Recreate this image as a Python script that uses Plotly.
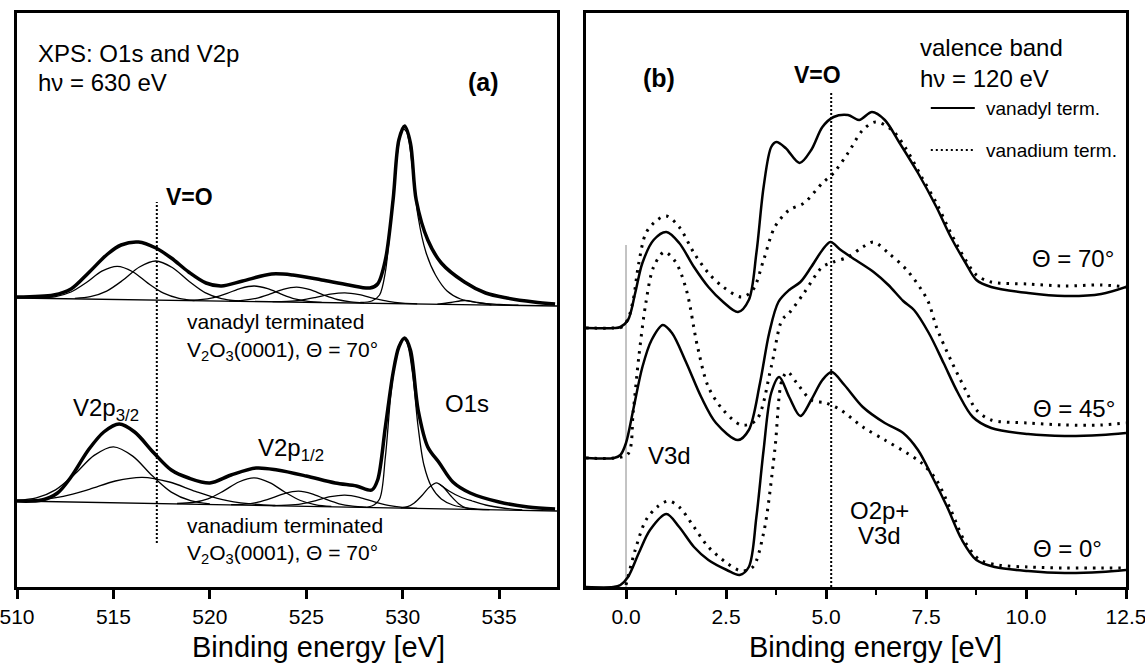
import plotly.graph_objects as go

# ---------------- panel (a): XPS O1s / V2p ----------------
# measured spectra (arb. units)
XPS_TOP_EV = [510.0, 511.9, 512.8, 513.7, 514.7, 515.4, 516.3, 517.2, 518.0, 518.9, 519.8, 520.6,
              521.7, 523.2, 524.3, 525.8, 527.2, 528.3, 528.7, 529.1, 529.5, 529.8, 530.1, 530.4,
              530.7, 531.3, 532.0, 533.2, 534.3, 535.4, 536.8, 537.9]
XPS_TOP = [290, 292, 298, 314, 333, 342, 345, 339, 329, 315, 304, 301, 306, 313, 312, 307, 302, 299,
           303, 327, 387, 447, 461, 444, 387, 347, 324, 305, 294, 289, 285, 283]

XPS_BOT_EV = [510.0, 511.3, 512.1, 512.8, 513.7, 514.5, 515.3, 516.1, 517.1, 518.0, 518.9, 520.0,
              521.1, 522.4, 523.5, 525.0, 526.5, 527.6, 528.4, 528.7, 529.1, 529.5, 529.8, 530.1,
              530.4, 530.8, 531.3, 531.9, 532.6, 533.5, 535.0, 536.5, 537.9]
XPS_BOT = [86, 87, 94, 110, 137, 155, 163, 155, 134, 117, 109, 104, 112, 119, 117, 111, 104, 101, 97,
           107, 160, 214, 240, 249, 237, 177, 140, 124, 105, 94, 85, 80, 78]

# backgrounds
BG_EV = [510.0, 538.0]
BG_TOP = [289, 281]
BG_BOT = [86, 76]

# fitted components, vanadyl terminated
TOP_C1_EV = [511.2, 512.0, 512.8, 513.6, 514.4, 515.2, 516.0, 516.8, 517.6, 518.4, 519.2]
TOP_C1 = [289, 290.4, 295, 304.5, 315.8, 320.6, 315.3, 303.6, 293.8, 288.6, 286.4]
TOP_C2_EV = [513.0, 513.8, 514.65, 515.5, 516.35, 517.2, 518.05, 518.9, 519.75, 520.6, 521.45]
TOP_C2 = [288.6, 290.3, 295.9, 306.9, 320, 326, 319.5, 306, 294.4, 288.4, 286.2]
TOP_C3_EV = [518.8, 519.5, 520.2, 520.9, 521.6, 522.3, 523.0, 523.7, 524.4, 525.1, 525.8]
TOP_C3 = [286.7, 287.3, 289.4, 293.6, 298.7, 301, 298.3, 292.9, 288.2, 285.7, 284.7]
TOP_C4_EV = [521.0, 521.7, 522.4, 523.1, 523.8, 524.5, 525.2, 525.9, 526.6, 527.3, 528.0]
TOP_C4 = [286.1, 286.7, 288.7, 292.8, 297.7, 299.9, 297.3, 292, 287.5, 285.1, 284.1]
TOP_C5_EV = [523.25, 524.0, 524.75, 525.5, 526.25, 527.0, 527.75, 528.5, 529.25, 530.0, 530.75]
TOP_C5 = [285.3, 285.6, 286.9, 289.6, 292.8, 294.2, 292.3, 288.7, 285.6, 283.9, 283.2]
TOP_O1S_EV = [527.8, 528.4, 528.8, 529.1, 529.4, 529.7, 530.0, 530.2, 530.5, 530.8, 531.2, 531.7,
              532.3, 533.0, 534.0, 535.0, 536.0]
TOP_O1S = [284.5, 286, 292, 315, 370, 430, 458, 455, 420, 370, 335, 312, 296, 288, 284, 282.5, 281.8]
TOP_C7_EV = [531.8, 532.5, 533.2, 533.9, 534.6]
TOP_C7 = [282.8, 284.5, 286.5, 284.5, 282.2]

# fitted components, vanadium terminated
BOT_C1_EV = [510.0, 511.0, 512.0, 513.0, 514.0, 515.0, 516.0, 517.0, 518.0, 519.0, 520.0]
BOT_C1 = [86.7, 89.1, 97.1, 112.9, 131.6, 140.2, 130.9, 111.5, 94.9, 86.3, 83.1]
BOT_C2_EV = [510.0, 511.0, 512.4, 513.75, 515.1, 516.5, 517.9, 519.25, 520.6, 522.0, 523.4]
BOT_C2 = [86.5, 87.2, 90.7, 97.7, 106, 109.7, 105, 95.7, 87.7, 83.3, 81.5]
BOT_C3_EV = [518.3, 519.1, 519.9, 520.7, 521.5, 522.3, 523.1, 523.9, 524.7, 525.5, 526.3]
BOT_C3 = [83.5, 84.5, 88.2, 95.9, 105, 109.1, 104.4, 94.8, 86.5, 82.2, 80.6]
BOT_C4_EV = [521.1, 521.8, 522.5, 523.2, 523.9, 524.6, 525.3, 526.0, 526.7, 527.4, 528.1]
BOT_C4 = [82.3, 82.8, 84.8, 88.8, 93.7, 95.8, 93.2, 87.8, 83.2, 80.8, 79.7]
BOT_C5_EV = [523.25, 524.0, 524.75, 525.5, 526.25, 527.0, 527.75, 528.5, 529.25, 530.0, 530.75]
BOT_C5 = [81.4, 81.8, 83.2, 86.4, 90.3, 91.9, 89.7, 85.3, 81.6, 79.6, 78.7]
BOT_O1S_EV = [527.8, 528.4, 528.8, 529.1, 529.4, 529.7, 530.0, 530.2, 530.5, 530.8, 531.1, 531.5,
              532.0, 532.6, 533.5, 534.5]
BOT_O1S = [79.6, 81, 88, 130, 195, 235, 248, 245, 215, 160, 122, 100, 88, 82, 78.5, 77.3]
BOT_C7_EV = [529.9, 530.25, 530.6, 531.0, 531.4, 531.75, 532.1, 532.5, 532.9, 533.25, 533.6]
BOT_C7 = [79.2, 80.4, 84.1, 91.5, 100.2, 104.2, 99.9, 91, 83.3, 79.3, 77.9]
BOT_ENV_EV = [531.9, 532.4, 533.0, 533.6, 534.3, 535.2, 536.2]
BOT_ENV = [103, 96, 90, 86, 82, 79, 77]

# V=O marker in (a)
VO_A_EV = [517.25, 517.25]
VO_A_Y = [44, 385]

# ---------------- panel (b): valence band ----------------
VB70_SOLID_EV = [-1.0, -0.3, -0.14, 0.05, 0.23, 0.41, 0.69, 1.01, 1.33, 1.70, 2.06, 2.43, 2.80, 3.07,
                 3.26, 3.44, 3.63, 3.76, 3.99, 4.34, 4.63, 4.91, 5.19, 5.55, 5.83, 6.15, 6.47, 6.84,
                 7.30, 7.76, 8.12, 8.49, 8.76, 9.13, 10.05, 10.97, 11.88, 12.5]
VB70_SOLID = [259, 259, 260, 267, 294, 324, 347, 355, 344, 320, 300, 285, 275, 287, 334, 400, 440,
              445, 439, 424, 437, 460, 470, 472, 467, 475, 467, 444, 414, 380, 350, 324, 307, 300,
              294, 291, 293, 300]
VB70_DOT_EV = [-1.0, -0.3, -0.1, 0.05, 0.18, 0.32, 0.50, 0.78, 1.01, 1.33, 1.70, 2.06, 2.43, 2.89,
               3.17, 3.44, 3.72, 4.08, 4.45, 4.91, 5.19, 5.55, 5.92, 6.24, 6.65, 7.02, 7.39, 7.76,
               8.12, 8.49, 8.76, 9.13, 10.05, 10.97, 11.88, 12.5]
VB70_DOT = [259, 259, 260, 268, 287, 324, 354, 367, 371, 360, 334, 314, 300, 290, 297, 327, 360, 377,
            384, 404, 414, 434, 457, 465, 457, 437, 410, 384, 354, 327, 312, 305, 303, 301, 302, 300]

VB45_SOLID_EV = [-1.0, -0.3, -0.14, 0.0, 0.18, 0.41, 0.64, 0.92, 1.15, 1.51, 1.88, 2.25, 2.80, 3.07,
                 3.35, 3.58, 3.81, 4.08, 4.36, 4.63, 4.91, 5.11, 5.37, 5.74, 6.19, 6.56, 6.93, 7.20,
                 7.57, 7.94, 8.30, 8.67, 9.13, 10.05, 10.97, 11.88, 12.5]
VB45_SOLID = [129, 129, 132, 144, 177, 220, 247, 262, 254, 224, 190, 164, 147, 157, 204, 254, 285,
              297, 305, 320, 337, 345, 337, 327, 315, 302, 286, 277, 254, 224, 194, 170, 159, 153,
              151, 152, 154]
VB45_DOT_EV = [-1.0, -0.3, 0.05, 0.18, 0.32, 0.50, 0.69, 0.96, 1.24, 1.51, 1.79, 2.06, 2.43, 2.89,
               3.26, 3.63, 3.90, 4.08, 4.45, 4.91, 5.19, 5.55, 5.92, 6.19, 6.56, 7.02, 7.39, 7.57,
               7.76, 8.12, 8.49, 8.76, 9.13, 10.05, 10.97, 11.88, 12.5]
VB45_DOT = [129, 129, 133, 175, 230, 285, 320, 335, 325, 297, 240, 200, 177, 162, 167, 220, 267, 274,
            294, 320, 325, 330, 340, 345, 334, 317, 297, 284, 260, 227, 197, 177, 167, 164, 162, 162,
            164]

VB0_SOLID_EV = [-1.0, -0.32, -0.14, 0.05, 0.32, 0.60, 1.01, 1.33, 1.70, 2.06, 2.52, 2.84, 3.07, 3.26,
                3.44, 3.63, 3.83, 4.08, 4.36, 4.63, 4.91, 5.14, 5.46, 5.92, 6.47, 6.93, 7.30, 7.66,
                8.03, 8.40, 8.76, 9.22, 10.05, 10.97, 11.88, 12.5]
VB0_SOLID = [0, 0, 2, 10, 34, 57, 73, 60, 40, 27, 17, 12, 20, 70, 137, 194, 210, 190, 171, 187, 207,
             215, 202, 180, 164, 154, 137, 110, 80, 47, 27, 20, 16, 14, 15, 17]
VB0_DOT_EV = [0.0, 0.23, 0.50, 0.78, 1.06, 1.33, 1.70, 2.06, 2.52, 2.89, 3.17, 3.44, 3.72, 3.90, 4.04,
              4.27, 4.63, 5.00, 5.37, 5.92, 6.47, 7.02, 7.39, 7.76, 8.12, 8.49, 8.85, 9.31, 10.05,
              10.97, 11.88, 12.5]
VB0_DOT = [2, 37, 67, 80, 86, 80, 60, 40, 24, 16, 20, 54, 137, 207, 215, 204, 187, 184, 177, 160, 147,
           134, 124, 107, 77, 44, 27, 22, 20, 19, 19, 19]

# Fermi level and V=O marker in (b)
EF_EV = [0.0, 0.0]
EF_Y = [0, 342]
VO_B_EV = [5.13, 5.13]
VO_B_Y = [0, 495]

FONT = "Arial, Liberation Sans, sans-serif"
DOT_DASH = "2.5px,6px"

fig = go.Figure()


def line(x, y, width, dash="solid", xa="x", ya="y", color="black", smooth=True):
    fig.add_trace(go.Scatter(
        x=x, y=y, mode="lines", xaxis=xa, yaxis=ya, showlegend=False, hoverinfo="skip",
        line=dict(color=color, width=width, dash=dash,
                  shape="spline" if smooth else "linear", smoothing=0.9)))


# panel (a)
for ev, y in [(BG_EV, BG_TOP), (BG_EV, BG_BOT)]:
    line(ev, y, 1.3, smooth=False)
for ev, y in [(TOP_C1_EV, TOP_C1), (TOP_C2_EV, TOP_C2), (TOP_C3_EV, TOP_C3), (TOP_C4_EV, TOP_C4),
              (TOP_C5_EV, TOP_C5), (TOP_O1S_EV, TOP_O1S), (TOP_C7_EV, TOP_C7),
              (BOT_C1_EV, BOT_C1), (BOT_C2_EV, BOT_C2), (BOT_C3_EV, BOT_C3), (BOT_C4_EV, BOT_C4),
              (BOT_C5_EV, BOT_C5), (BOT_O1S_EV, BOT_O1S), (BOT_C7_EV, BOT_C7),
              (BOT_ENV_EV, BOT_ENV)]:
    line(ev, y, 1.3)
line(XPS_TOP_EV, XPS_TOP, 3.5)
line(XPS_BOT_EV, XPS_BOT, 3.5)
line(VO_A_EV, VO_A_Y, 2, dash="2px,2px", smooth=False)

# panel (b)
line(EF_EV, EF_Y, 1, xa="x2", ya="y2", color="#888888", smooth=False)
line(VO_B_EV, VO_B_Y, 2, dash="2px,2px", xa="x2", ya="y2", smooth=False)
for ev, y in [(VB70_DOT_EV, VB70_DOT), (VB45_DOT_EV, VB45_DOT), (VB0_DOT_EV, VB0_DOT)]:
    line(ev, y, 3, dash=DOT_DASH, xa="x2", ya="y2")
for ev, y in [(VB70_SOLID_EV, VB70_SOLID), (VB45_SOLID_EV, VB45_SOLID), (VB0_SOLID_EV, VB0_SOLID)]:
    line(ev, y, 2.5, xa="x2", ya="y2")

# legend keys in (b)
LEGEND_KEY_EV = [7.62, 8.72]
LEGEND_SOLID_Y = 479
LEGEND_DOT_Y = 437
fig.add_shape(type="line", xref="x2", yref="y2", x0=LEGEND_KEY_EV[0], x1=LEGEND_KEY_EV[1],
              y0=LEGEND_SOLID_Y, y1=LEGEND_SOLID_Y, line=dict(color="black", width=2))
fig.add_shape(type="line", xref="x2", yref="y2", x0=LEGEND_KEY_EV[0], x1=LEGEND_KEY_EV[1],
              y0=LEGEND_DOT_Y, y1=LEGEND_DOT_Y, line=dict(color="black", width=2, dash="2px,3px"))


def text(t, x, y, size=24, xa="x", ya="y", anchor="left", bold=False):
    fig.add_annotation(text=f"<b>{t}</b>" if bold else t, x=x, y=y, xref=xa, yref=ya,
                       xanchor=anchor, yanchor="middle", showarrow=False,
                       font=dict(family=FONT, size=size, color="black"))


# labels (a)
text("XPS: O1s and V2p", 511.0, 534)
text("hν = 630 eV", 511.0, 505)
text("(a)", 534.2, 505, size=25, anchor="center", bold=True)
text("V=O", 517.6, 390, size=23, bold=True)
text("vanadyl terminated", 518.7, 266, size=21)
text("V<sub>2</sub>O<sub>3</sub>(0001), Θ = 70°", 518.7, 236, size=21)
text("V2p<sub>3/2</sub>", 512.8, 178)
text("V2p<sub>1/2</sub>", 522.4, 138)
text("O1s", 532.1, 184)
text("vanadium terminated", 518.7, 62, size=21)
text("V<sub>2</sub>O<sub>3</sub>(0001), Θ = 70°", 518.7, 33, size=21)

# labels (b)
text("valence band", 7.30, 540, xa="x2", ya="y2")
text("hν = 120 eV", 7.30, 509, xa="x2", ya="y2")
text("(b)", 0.83, 509, size=25, xa="x2", ya="y2", anchor="center", bold=True)
text("V=O", 4.78, 512, size=23, xa="x2", ya="y2", anchor="center", bold=True)
text("vanadyl term.", 8.95, LEGEND_SOLID_Y, size=19, xa="x2", ya="y2")
text("vanadium term.", 8.95, LEGEND_DOT_Y, size=19, xa="x2", ya="y2")
text("Θ = 70°", 10.10, 329, xa="x2", ya="y2")
text("Θ = 45°", 10.12, 179, xa="x2", ya="y2")
text("Θ = 0°", 10.12, 39, xa="x2", ya="y2")
text("V3d", 0.50, 132, xa="x2", ya="y2")
text("O2p+", 6.33, 77, xa="x2", ya="y2", anchor="center")
text("V3d", 6.33, 52, xa="x2", ya="y2", anchor="center")

# axis titles
for xc in [318 / 1145, 875 / 1145]:
    fig.add_annotation(text="Binding energy [eV]", x=xc, y=1 - 647 / 663, xref="paper",
                       yref="paper", xanchor="center", yanchor="middle", showarrow=False,
                       font=dict(family=FONT, size=29, color="black"))

axis_common = dict(showgrid=False, zeroline=False, showline=True, mirror=True, linecolor="black",
                   linewidth=2.5, automargin=False)
ydom = [1 - 587 / 663, 1 - 13 / 663]

fig.update_layout(
    width=1145, height=663, autosize=False,
    margin=dict(l=0, r=0, t=0, b=0, autoexpand=False),
    paper_bgcolor="white", plot_bgcolor="white",
    font=dict(family=FONT, color="black"),
    xaxis=dict(domain=[17 / 1145, 557 / 1145], range=[510, 538], tick0=510, dtick=5,
               ticks="outside", ticklen=9, tickwidth=2.5, tickcolor="black",
               ticklabeloverflow="allow",
               tickfont=dict(family=FONT, size=21), **axis_common),
    yaxis=dict(domain=ydom, range=[0, 574], showticklabels=False, ticks="", **axis_common),
    xaxis2=dict(domain=[586 / 1145, 1126 / 1145], range=[-1, 12.5], tick0=0, dtick=2.5,
                tickformat=".1f", ticks="outside", ticklen=9, tickwidth=2.5, tickcolor="black",
                ticklabeloverflow="allow",
                minor=dict(tick0=0, dtick=1.25, ticks="outside", ticklen=5, tickwidth=2,
                           tickcolor="black"),
                tickfont=dict(family=FONT, size=21), anchor="y2", **axis_common),
    yaxis2=dict(domain=ydom, range=[0, 574], showticklabels=False, ticks="", anchor="x2",
                **axis_common),
)

fig.write_html("out.html")
